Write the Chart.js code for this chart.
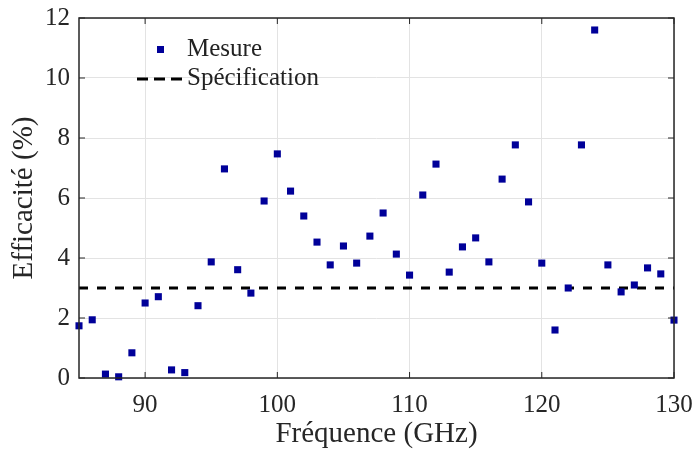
<!DOCTYPE html>
<html>
<head>
<meta charset="utf-8">
<script src="https://cdn.jsdelivr.net/npm/chart.js@4/dist/chart.umd.min.js"></script>
<style>
  html, body { margin: 0; padding: 0; background: #fff; }
  #box { width: 697px; height: 452px; }
</style>
</head>
<body>
<div id="box"><canvas id="myChart" width="697" height="452"></canvas></div>
<script>
// Measured frequencies (GHz) and efficiency (%)
var frequencies = [85, 86, 87, 88, 89, 90, 91, 92, 93, 94, 95, 96, 97, 98, 99, 100,
                   101, 102, 103, 104, 105, 106, 107, 108, 109, 110, 111, 112, 113, 114, 115,
                   116, 117, 118, 119, 120, 121, 122, 123, 124, 125, 126, 127, 128, 129, 130];
var efficiency = [1.74, 1.94, 0.13, 0.04, 0.84, 2.5, 2.71, 0.27, 0.18, 2.41, 3.87, 6.97, 3.61, 2.83, 5.9, 7.47,
                  6.23, 5.4, 4.53, 3.77, 4.4, 3.83, 4.73, 5.5, 4.13, 3.43, 6.1, 7.13, 3.53, 4.37, 4.67,
                  3.87, 6.63, 7.77, 5.87, 3.83, 1.6, 3.0, 7.77, 11.6, 3.77, 2.87, 3.1, 3.67, 3.47, 1.93];
// Specification threshold
var specX = [85, 130];
var specValue = 3;
var xTicks = [90, 100, 110, 120, 130];

var seriesLabels = ["Mesure", "Spécification"];
var FONT = "'Liberation Serif', 'Times New Roman', serif";

var measurePoints = [];
for (var i = 0; i < frequencies.length; i++) {
    measurePoints.push({ x: frequencies[i], y: efficiency[i] });
}
var specPoints = [];
for (var i = 0; i < specX.length; i++) {
    specPoints.push({ x: specX[i], y: specValue });
}

// Draws the box around the plot, inward ticks, and the legend in the upper left
var framePlugin = {
    id: 'frame',
    afterDatasetsDraw: function(chart) {
        var ctx = chart.ctx;
        var a = chart.chartArea;
        var xs = chart.scales.x, ys = chart.scales.y;
        ctx.save();
        ctx.strokeStyle = '#262626';
        ctx.lineWidth = 1.5;
        ctx.strokeRect(a.left, a.top, a.right - a.left, a.bottom - a.top);
        ctx.lineWidth = 1;
        var len = 6;
        xs.ticks.forEach(function(t) {
            var px = xs.getPixelForValue(t.value);
            ctx.beginPath();
            ctx.moveTo(px, a.bottom); ctx.lineTo(px, a.bottom - len);
            ctx.moveTo(px, a.top); ctx.lineTo(px, a.top + len);
            ctx.stroke();
        });
        ys.ticks.forEach(function(t) {
            var py = ys.getPixelForValue(t.value);
            ctx.beginPath();
            ctx.moveTo(a.left, py); ctx.lineTo(a.left + len, py);
            ctx.moveTo(a.right, py); ctx.lineTo(a.right - len, py);
            ctx.stroke();
        });

        // legend
        ctx.font = '25px ' + FONT;
        ctx.textBaseline = 'middle';
        ctx.fillStyle = '#000099';
        ctx.fillRect(157, 46, 7, 7);
        ctx.fillStyle = '#222';
        ctx.fillText(seriesLabels[0], 187, 49);
        ctx.strokeStyle = '#000';
        ctx.lineWidth = 3;
        ctx.setLineDash([11, 6]);
        ctx.beginPath();
        ctx.moveTo(137, 79); ctx.lineTo(184, 79);
        ctx.stroke();
        ctx.setLineDash([]);
        ctx.fillText(seriesLabels[1], 187, 78);
        ctx.restore();
    }
};

var ctx = document.getElementById("myChart").getContext("2d");
new Chart(ctx, {
    type: 'scatter',
    data: {
        datasets: [{
            label: seriesLabels[0],
            data: measurePoints,
            pointStyle: 'rect',
            pointRadius: 5,
            pointBackgroundColor: '#000099',
            pointBorderWidth: 0,
            showLine: false,
            clip: false,
            order: 1
        }, {
            label: seriesLabels[1],
            type: 'line',
            data: specPoints,
            borderColor: '#000',
            borderWidth: 3,
            borderDash: [9, 9],
            pointRadius: 0,
            fill: false,
            order: 2
        }]
    },
    options: {
        responsive: false,
        animation: false,
        layout: { padding: { top: 18, right: 23, left: 0, bottom: 0 } },
        plugins: {
            legend: { display: false },
            tooltip: { enabled: false }
        },
        scales: {
            x: {
                type: 'linear',
                min: 85,
                max: 130,
                afterFit: function(s) { s.height = 74; s.paddingLeft = 0; s.paddingRight = 0; },
                grid: { color: '#e3e3e3', lineWidth: 1, drawTicks: false },
                border: { display: false },
                afterBuildTicks: function(s) {
                    s.ticks = xTicks.map(function(v) { return { value: v }; });
                },
                ticks: {
                    padding: 12,
                    color: '#262626',
                    font: { family: FONT, size: 25 }
                },
                title: {
                    display: true,
                    text: 'Fréquence (GHz)',
                    color: '#262626',
                    font: { family: FONT, size: 29 },
                    padding: { top: 2, bottom: 0 }
                }
            },
            y: {
                min: 0,
                max: 12,
                afterFit: function(s) { s.width = 79; s.paddingTop = 0; s.paddingBottom = 0; },
                grid: { color: '#e3e3e3', lineWidth: 1, drawTicks: false },
                border: { display: false },
                ticks: {
                    stepSize: 2,
                    padding: 9,
                    color: '#262626',
                    font: { family: FONT, size: 25 }
                },
                title: {
                    display: true,
                    text: 'Efficacité (%)',
                    color: '#262626',
                    font: { family: FONT, size: 29 },
                    padding: { top: 7, bottom: 0 }
                }
            }
        }
    },
    plugins: [framePlugin]
});
</script>
</body>
</html>
